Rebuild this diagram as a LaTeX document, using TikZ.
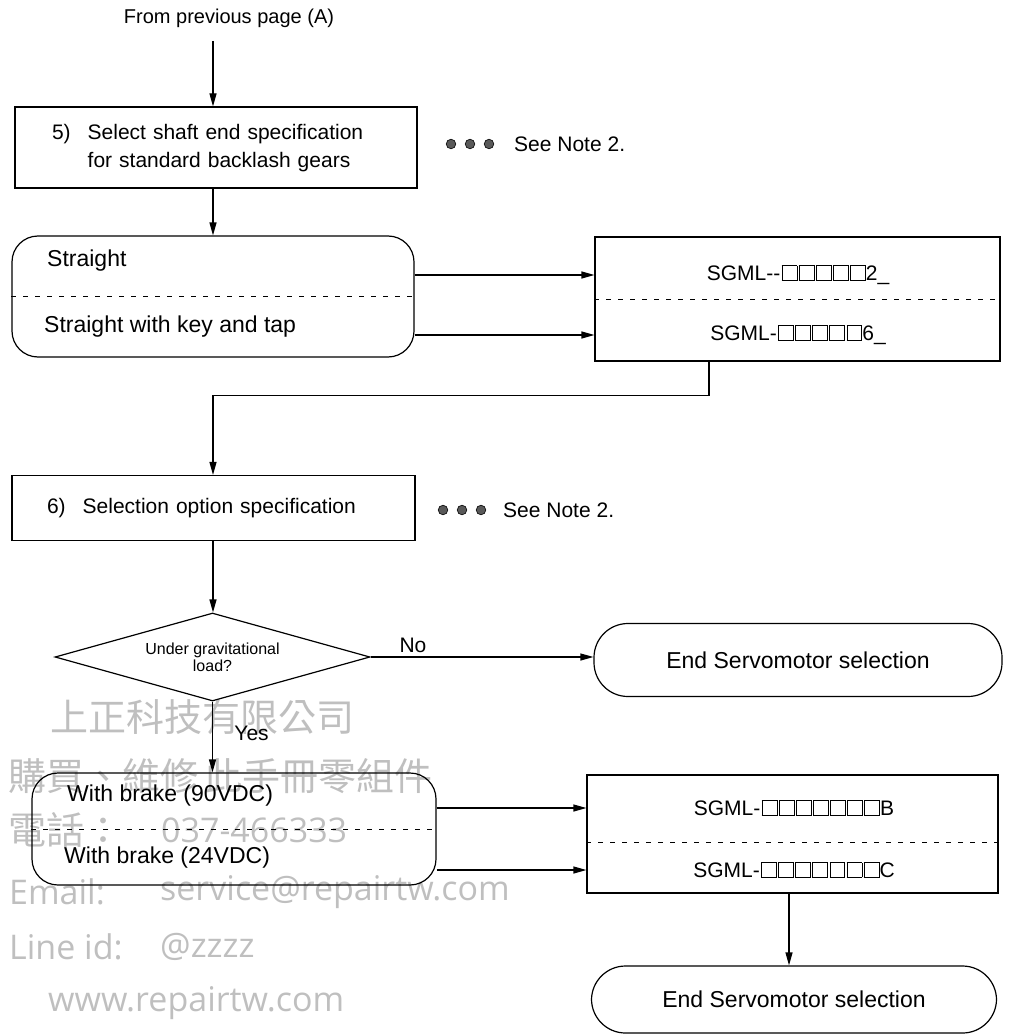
\documentclass[tikz,border=0pt]{standalone}
\usepackage{fontspec}
\setmainfont{Liberation Sans}
\newfontfamily\cjkfont{Noto Sans CJK TC}
\newfontfamily\markfont{Open Sans}
\usetikzlibrary{positioning,arrows.meta,shapes.geometric,calc}
\setlength{\fboxsep}{0pt}
\setlength{\fboxrule}{0.9pt}
\newcommand{\slot}{\kern1.3pt\fbox{\rule{0pt}{14pt}\hspace{14pt}}}

\begin{document}
\begin{tikzpicture}[x=1pt, y=-1pt,
    font=\fontsize{21}{28}\selectfont,
    box/.style={draw, line width=1.2pt, inner sep=0pt},
    roundbox/.style={box, rounded corners=26pt},
    endbox/.style={box, rounded corners=34pt, font=\fontsize{23}{28}\selectfont},
    decision/.style={box, diamond, aspect=3.5, align=center, font=\fontsize{16}{17}\selectfont},
    row/.style={anchor=west, inner sep=0pt, font=\fontsize{23}{28}\selectfont},
    code/.style={inner sep=0pt},
    split/.style={dash pattern=on 5pt off 7pt, line width=0.8pt},
    arr/.style={-{Triangle[length=13pt,width=7pt]}, line width=1.2pt},
    dot/.style={fill=black!65, draw=black, line width=0.6pt},
    wmark/.style={anchor=west, inner sep=0pt, text=black!25, font=\markfont\fontsize{34}{34}\selectfont},
    cjk/.style={font=\cjkfont\fontsize{38}{38}\selectfont},
  ]
  \useasboundingbox (0,0) rectangle (1010,1035);
  \coordinate (spine) at (213,0);

  \node[wmark, cjk] (wm1) at (50,717) {上正科技有限公司};
  \node[wmark, cjk] (wm2) at (8,776) {購買、維修\,此手冊零組件};
  \node[wmark, cjk] (wm3) at (8,830) {電話：};
  \node[wmark] (wm4) at (161,830) {037-466333};
  \node[wmark] (wm5) at (9,892) {Email:};
  \node[wmark] (wm6) at (160,892) {service@repairtw.com};
  \node[wmark] (wm7) at (9,947) {Line id:};
  \node[wmark] (wm8) at (160,947) {@zzzz};
  \node[wmark] (wm9) at (48,1003) {www.repairtw.com};

  \node (from) at (229,18) {\fontsize{20}{24}\selectfont From previous page (A)};
  \node[box, minimum width=402pt, minimum height=81pt, inner xsep=37pt, text width=328pt, align=left]
    (s5) at (216,147.5)
    {\begin{tabular}{@{}l@{\hspace{17pt}}l@{}}5) & Select shaft end specification\\ & for standard backlash gears\end{tabular}};
  \node[anchor=west, inner sep=0pt] (note5) at (514,144) {See Note 2.};
  \foreach \k in {0,1,2}
    \filldraw[dot] ([xshift={-63pt+19pt*\k}]note5.west) circle (4.8pt);

  \node[roundbox, minimum width=402pt, minimum height=121pt] (shaft) at (213,296.5) {};
  \draw[split] (shaft.west) -- (shaft.east);
  \node[row] (straight) at (47,261) {Straight};
  \node[row] (keytap) at (44,327) {Straight with key and tap};

  \node[box, minimum width=405pt, minimum height=124pt] (shaftcode) at (797.5,299) {};
  \draw[split] (shaftcode.west) -- (shaftcode.east);
  \node[code] (code2) at (798,275) {SGML-{}-\slot\slot\slot\slot\slot 2\_};
  \node[code] (code6) at (798,335) {SGML-\slot\slot\slot\slot\slot 6\_};

  \node[box, minimum width=403pt, minimum height=65pt, inner xsep=35pt, text width=333pt, align=left]
    (s6) at (213.5,508) {6)\hspace{17pt}Selection option specification};
  \node[anchor=west, inner sep=0pt] (note6) at (503,510) {See Note 2.};
  \foreach \k in {0,1,2}
    \filldraw[dot] ([xshift={-60pt+19pt*\k}]note6.west) circle (4.8pt);

  \node[decision, minimum width=315pt, minimum height=88pt, inner sep=0pt] (gravity) at (212.5,657)
    {Under gravitational\\load?};
  \node[endbox, minimum width=408pt, minimum height=73pt] (end1) at (798,660) {End Servomotor selection};

  \node[roundbox, minimum width=404pt, minimum height=112pt] (brake) at (234,829) {};
  \draw[split] (brake.west) -- (brake.east);
  \node[row] (b90) at (67,796) {With brake (90VDC)};
  \node[row] (b24) at (64,858) {With brake (24VDC)};

  \node[box, minimum width=411pt, minimum height=118pt] (brakecode) at (792.5,834) {};
  \draw[split] ([yshift=-8pt]brakecode.west) -- ([yshift=-8pt]brakecode.east);
  \node[code] (codeB) at (794,808) {SGML-\slot\slot\slot\slot\slot\slot\slot B};
  \node[code] (codeC) at (794,870) {SGML-\slot\slot\slot\slot\slot\slot\slot C};

  \node[endbox, minimum width=405pt, minimum height=67pt] (end2) at (794,999.5) {End Servomotor selection};

  \draw[arr] ([yshift=-10pt]from.south -| spine) -- (s5.north -| spine);
  \draw[arr] (s5.south -| spine) -- (shaft.north -| spine);
  \draw[arr] (shaft.east |- code2) -- (shaftcode.west |- code2);
  \draw[arr] (shaft.east |- code6) -- (shaftcode.west |- code6);
  \draw[arr] ([xshift=-88.5pt]shaftcode.south) -- ++(0,34) -| (s6.north -| spine);
  \draw[arr] (s6.south -| spine) -- (gravity.north -| spine);
  \draw[arr] (gravity.east) -- node[above, pos=0.19] {No} (gravity.east -| end1.west);
  \draw[arr] (gravity.south) -- node[right, pos=0.45, xshift=18pt] {Yes} (brake.north -| gravity.south);
  \draw[arr] (brake.east |- codeB) -- (brakecode.west |- codeB);
  \draw[arr] (brake.east |- codeC) -- (brakecode.west |- codeC);
  \draw[arr] ([xshift=-3.5pt]brakecode.south) -- ([xshift=-3.5pt]brakecode.south |- end2.north);
\end{tikzpicture}
\end{document}
